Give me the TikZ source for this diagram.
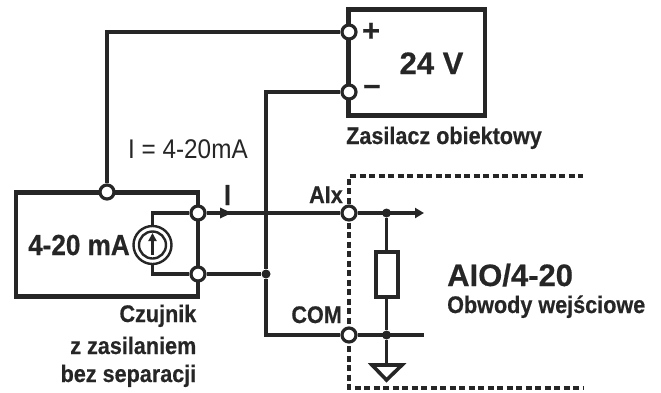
\documentclass[tikz,border=0pt]{standalone}
\usepackage{fontspec}
\setmainfont[FakeStretch=0.9,BoldFeatures={FakeStretch=0.9,FakeBold=0.5}]{Liberation Sans}
\newfontfamily\widefont[BoldFeatures={FakeBold=0.5}]{Liberation Sans}
\usetikzlibrary{arrows.meta}

\begin{document}
\begin{tikzpicture}[
    x=1pt, y=-1pt,
    wire/.style={line width=3.6pt, color=black!85},
    box/.style={line width=4.4pt, color=black!85},
    frame/.style={line width=3.2pt, color=black!85, dash pattern=on 6pt off 3.5pt},
    term node/.style={circle, draw=black!85, fill=white, line width=3.2pt, minimum size=14pt, inner sep=0pt},
    dot node/.style={circle, fill=black!85, minimum size=9pt, inner sep=0pt},
    ring node/.style={circle, draw=black!85, line width=2.4pt, inner sep=0pt},
    label node/.style={inner sep=0pt, text=black!85, font=\bfseries\fontsize{#1}{#1}\selectfont},
    ]
  \useasboundingbox (0,0) rectangle (661,392);

  % boxes
  \draw[box] (348.5,9.5) rectangle (485,115.5);
  \draw[box] (16,192.5) rectangle (198,296.5);
  \draw[frame] (349,213) -- (349,176) -- (583,176);
  \draw[frame] (349,213) -- (349,388) -- (583,388);

  % terminals
  \node[term node] (plus) at (349,32) {};
  \node[term node] (minus) at (349,92) {};
  \node[term node] (top) at (107,192) {};
  \node[term node] (out) at (198,213) {};
  \node[term node] (ret) at (198,274) {};
  \node[term node] (alx) at (349,213) {};
  \node[term node] (com) at (349,335) {};

  \node[dot node] (join) at (266,274) {};
  \node[dot node] (upper) at (386.5,213) {};
  \node[dot node] (lower) at (386.5,335) {};

  % current source
  \node[ring node, minimum size=38pt] (src) at (152.5,245) {};
  \node[ring node, minimum size=27pt] (srcin) at (152.5,245) {};
  \coordinate (srcb) at (152.5,255);
  \coordinate (srct) at (152.5,233);
  \draw[wire, line width=3pt, -{Triangle[length=8pt,width=8pt]}] (srcb) -- (srct);

  % resistor and ground
  \node[draw=black!85, fill=white, line width=4pt, minimum width=22pt, minimum height=45pt, inner sep=0pt] (res) at (386.5,274) {};
  \coordinate (arrowend) at (424,213);
  \coordinate (comend) at (424,335);
  \coordinate (gnd) at (386.5,365);
  \coordinate (gndl) at (372,365);
  \coordinate (gndr) at (402,365);
  \coordinate (gndb) at (386.5,380);
  \coordinate (tip) at (232,213);

  \draw[wire] (top) -- (107,32) -- (plus);
  \draw[wire] (minus) -- (266,92) -- (join);
  \draw[wire] (join) |- (com);
  \draw[wire] (ret) -- (join);
  \draw[wire] (out) -- (alx);
  \draw[wire, -{Triangle[length=12pt,width=10pt]}] (out) -- (tip);
  \draw[wire] (out) -| (src);
  \draw[wire] (ret) -| (src);
  \draw[wire, -{Triangle[length=9pt,width=10pt]}] (alx) -- (arrowend);
  \draw[wire] (com) -- (comend);
  \draw[wire] (upper) -- (res);
  \draw[wire] (res) -- (lower);
  \draw[wire] (lower) -- (gnd);
  \draw[wire, line join=miter] (gndl) -- (gndr) -- (gndb) -- cycle;

  % labels
  \node[label node=31, anchor=base] (volt) at (431.5,74) {\widefont\bfseries 24 V};
  \node[label node=31] (pluslabel) at (371,32) {\widefont\bfseries +};
  \node[label node=31] (minuslabel) at (372,90) {\widefont\bfseries –};
  \node[label node=24, anchor=base west] (zasilacz) at (346,144) {Zasilacz obiektowy};
  \node[inner sep=0pt, anchor=base west, text=black!85, font=\fontsize{27}{27}\selectfont] (current) at (128,158) {I = 4-20mA};
  \node[label node=29, anchor=base west] (sensor) at (28,255) {4-20 mA};
  \node[label node=29, anchor=base] (ilabel) at (227.5,205) {I};
  \node[label node=24, anchor=base east] (alxlabel) at (343,203) {AIx};
  \node[label node=24, anchor=base east] (comlabel) at (342,323) {COM};
  \node[label node=31, anchor=base west] (aio) at (447,286) {\widefont\bfseries AIO/4-20};
  \node[label node=24, anchor=base west] (obwody) at (447,313) {Obwody wejściowe};
  \node[label node=24, anchor=base east] (czujnik) at (196.5,322) {Czujnik};
  \node[label node=24, anchor=base east] (zasil) at (196.5,354) {z zasilaniem};
  \node[label node=24, anchor=base east] (separ) at (196.5,382) {bez separacji};
\end{tikzpicture}
\end{document}
